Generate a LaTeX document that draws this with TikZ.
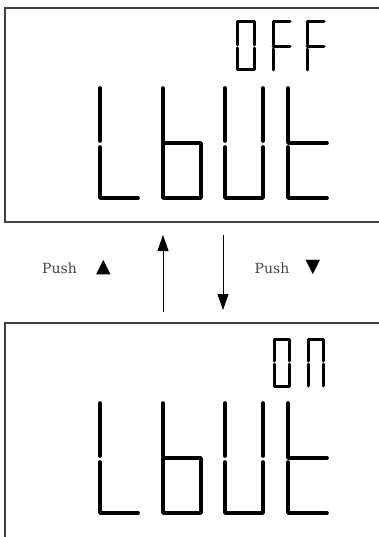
\documentclass[tikz,border=0pt]{standalone}
\usepackage{fontspec}
\newfontfamily\pushfont{DejaVu Serif}
\newfontfamily\symfont{DejaVu Sans}
\usetikzlibrary{arrows.meta}
\newcommand\lcdword{%
  % L
  \draw[seg] (100,88) -- (100,141);
  \draw[seg] (100,147) -- (100,198) -- (138,198);
  % b
  \draw[seg] (163,88) -- (163,141);
  \draw[seg] (163,143) rectangle (201,198);
  % U
  \draw[seg] (225,88) -- (225,141);
  \draw[seg] (263,88) -- (263,141);
  \draw[seg] (225,147) -- (225,198) -- (263,198) -- (263,147);
  % t
  \draw[seg] (288,88) -- (288,143) -- (327,143);
  \draw[seg] (288,147) -- (288,198) -- (327,198);
}
\begin{document}
\begin{tikzpicture}[x=1pt,y=-1pt,
  seg/.style={line width=3.6pt,line cap=round,line join=round},
  smallseg/.style={line width=3pt,line cap=round,line join=round},
  frame/.style={draw=black!75,line width=1.5pt},
  conn/.style={line width=0.9pt,-{Triangle[length=16pt,width=11pt]}},
  pushlbl/.style={font=\pushfont\fontsize{14}{16}\selectfont,text=black!72,inner sep=0pt},
  tri/.style={font=\symfont\fontsize{19}{20}\selectfont,inner sep=0pt}]
\useasboundingbox (0,0) rectangle (378,537);
\fill[white] (0,0) rectangle (378,537);
% frames
\draw[frame] (380,8) -- (5,8) -- (5,222) -- (380,222);
\draw[frame] (380,323) -- (5,323) -- (5,540);
% top display
\lcdword
\draw[smallseg] (237,45) -- (237,22) -- (254,22) -- (254,45);
\draw[smallseg] (237,48) -- (237,70) -- (254,70) -- (254,48);
\draw[smallseg] (290,22) -- (273,22) -- (273,45);
\draw[smallseg] (273,47) -- (290,47);
\draw[smallseg] (273,49) -- (273,70);
\draw[smallseg] (324,22) -- (307,22) -- (307,45);
\draw[smallseg] (307,47) -- (324,47);
\draw[smallseg] (307,49) -- (307,70);
% bottom display
\begin{scope}[shift={(0,315)}]
\lcdword
\draw[smallseg] (274,46) -- (274,24) -- (289,24) -- (289,46);
\draw[smallseg] (274,49) -- (274,71) -- (289,71) -- (289,49);
\draw[smallseg] (308,46) -- (308,24) -- (323,24) -- (323,46);
\draw[smallseg] (308,49) -- (308,71);
\draw[smallseg] (323,49) -- (323,71);
\end{scope}
% connectors
\coordinate (upS) at (163,312);
\coordinate (upE) at (163,235);
\coordinate (dnS) at (223,235);
\coordinate (dnE) at (223,310);
\draw[conn] (upS) -- (upE);
\draw[conn] (dnS) -- (dnE);
% labels
\node[pushlbl] (push1) at (59.5,268) {Push};
\node[tri] (tri1) at (103.5,267.5) {▲};
\node[pushlbl] (push2) at (272,268) {Push};
\node[tri] (tri2) at (313,267.5) {▼};
\end{tikzpicture}
\end{document}
